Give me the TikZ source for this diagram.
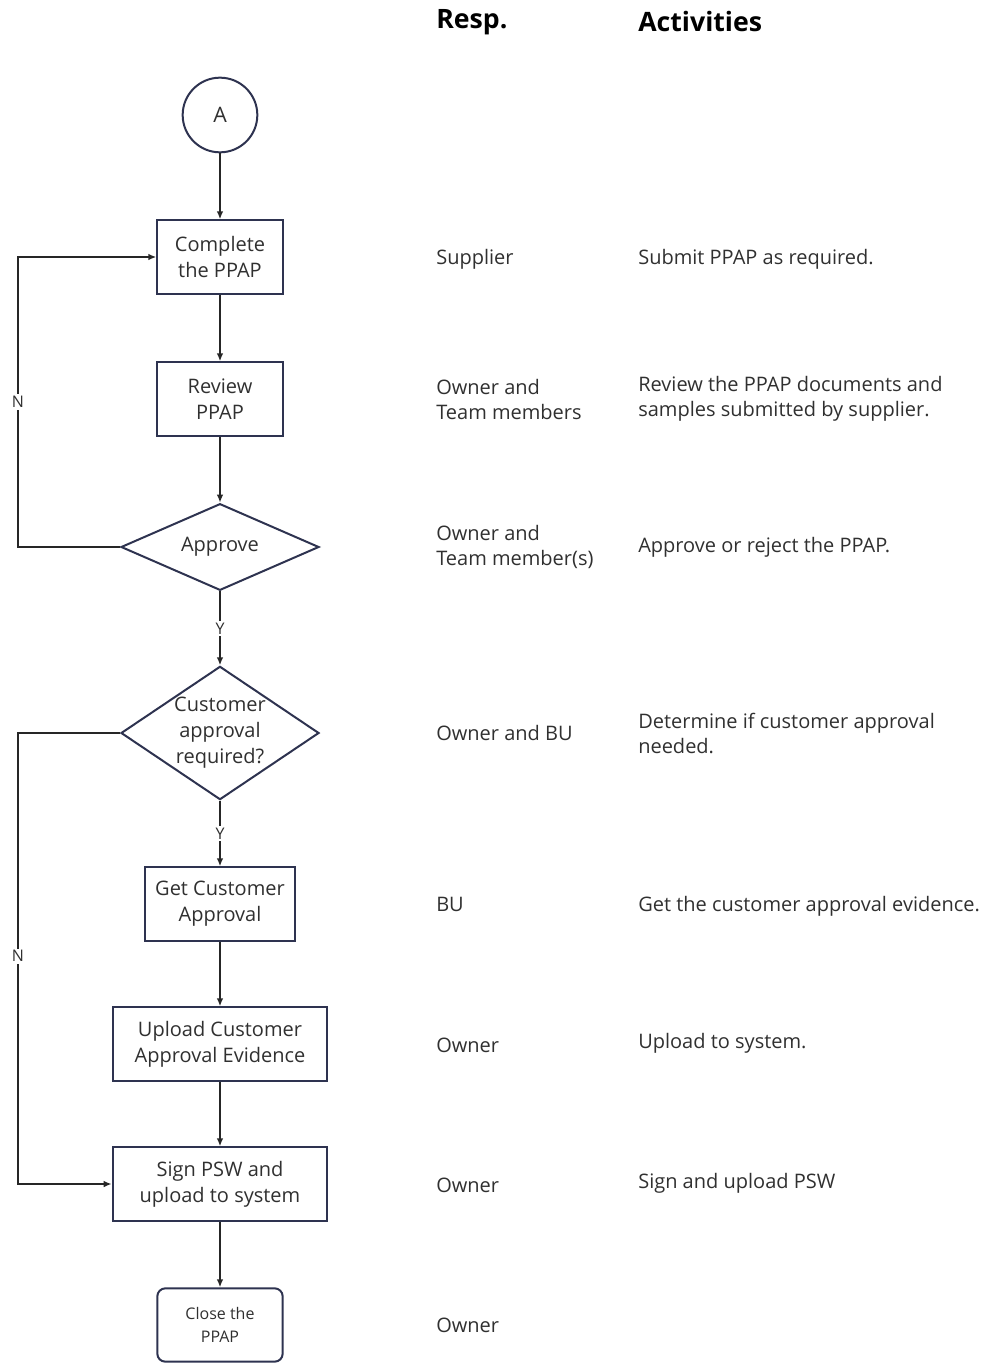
\documentclass[tikz,border=0pt]{standalone}
\usepackage{fontspec}
\setmainfont{Open Sans}
\usetikzlibrary{shapes.geometric,arrows.meta}
\definecolor{edge}{HTML}{2E3350}
\definecolor{txt}{HTML}{303030}
\tikzset{
  pbox/.style={draw=edge,line width=1.5pt,minimum width=#1,minimum height=55pt,align=center,inner sep=0pt,font=\fontsize{15}{19.5}\selectfont,text=txt},
  pbox/.default=94pt,
  dia/.style={draw=edge,line width=1.5pt,diamond,aspect=2.3,minimum width=148.5pt,inner sep=0pt,align=center,font=\fontsize{15}{19.5}\selectfont,text=txt},
  conn/.style={draw=black!85,line width=1.4pt,-{Latex[length=6pt,width=5pt]}},
  lbl/.style={anchor=west,align=left,font=\fontsize{15}{18.75}\selectfont,text=txt,inner sep=0pt},
  hdr/.style={anchor=west,font=\fontsize{20}{24}\bfseries\selectfont,text=black,inner sep=0pt},
  yn/.style={fill=white,inner sep=1.5pt,font=\fontsize{12}{14}\selectfont,text=txt},
}
\begin{document}
\begin{tikzpicture}[x=0.75pt,y=-0.75pt]
\useasboundingbox (0,0) rectangle (987,1363);
% headers
\node[hdr] (hr) at (436,22) {Resp.};
\node[hdr] (ha) at (638,22) {Activities};
% flow
\node[draw=edge,line width=1.5pt,circle,minimum size=56pt,inner sep=0pt,font=\fontsize{16}{18}\selectfont,text=txt] (A) at (220,115) {A};
\node[pbox] (c1) at (220,257) {Complete\\the PPAP};
\node[pbox] (c2) at (220,399) {Review\\PPAP};
\node[dia,minimum height=65pt] (d1) at (220,547) {Approve};
\node[dia,minimum height=100pt,label={[align=center,font=\fontsize{15}{19.5}\selectfont,text=txt,inner sep=0pt]center:Customer\\approval\\required?}] (d2) at (220,733) {};
\node[pbox=112pt] (c3) at (220,904) {Get Customer\\Approval};
\node[pbox=161pt] (c4) at (220,1044) {Upload Customer\\Approval Evidence};
\node[pbox=161pt] (c5) at (220,1184) {Sign PSW and\\upload to system};
\node[pbox,rounded corners=6pt,font=\fontsize{12}{17}\selectfont] (c6) at (220,1325) {Close the\\PPAP};
% connectors
\draw[conn] (A) -- (c1);
\draw[conn] (c1) -- (c2);
\draw[conn] (c2) -- (d1);
\draw[conn] (d1) -- node[yn,pos=0.5] {Y} (d2);
\draw[conn] (d2) -- node[yn,pos=0.5] {Y} (c3);
\draw[conn] (c3) -- (c4);
\draw[conn] (c4) -- (c5);
\draw[conn] (c5) -- (c6);
\coordinate (l1) at (18,547);
\coordinate (l2) at (18,257);
\draw[conn] (d1.west) -- (l1) -- node[yn,pos=0.5] {N} (l2) -- (c1.west);
\coordinate (l3) at (18,733);
\coordinate (l4) at (18,1184);
\draw[conn] (d2.west) -- (l3) -- node[yn,pos=0.495] {N} (l4) -- (c5.west);
% resp
\node[lbl] (r1) at (436,259) {Supplier};
\node[lbl] (r2) at (436,399) {Owner and\\Team members};
\node[lbl] (r3) at (436,547) {Owner and\\Team member(s)};
\node[lbl] (r4) at (436,733) {Owner and BU};
\node[lbl] (r5) at (436,904) {BU};
\node[lbl] (r6) at (436,1045) {Owner};
\node[lbl] (r7) at (436,1185) {Owner};
\node[lbl] (r8) at (436,1325) {Owner};
% activities
\node[lbl] (a1) at (638,259) {Submit PPAP as required.};
\node[lbl] (a2) at (638,399) {Review the PPAP documents and\\samples submitted by supplier.};
\node[lbl] (a3) at (638,547) {Approve or reject the PPAP.};
\node[lbl] (a4) at (638,733) {Determine if customer approval\\needed.};
\node[lbl] (a5) at (638,906) {Get the customer approval evidence.};
\node[lbl] (a6) at (638,1043) {Upload to system.};
\node[lbl] (a7) at (638,1183) {Sign and upload PSW};
\end{tikzpicture}
\end{document}
